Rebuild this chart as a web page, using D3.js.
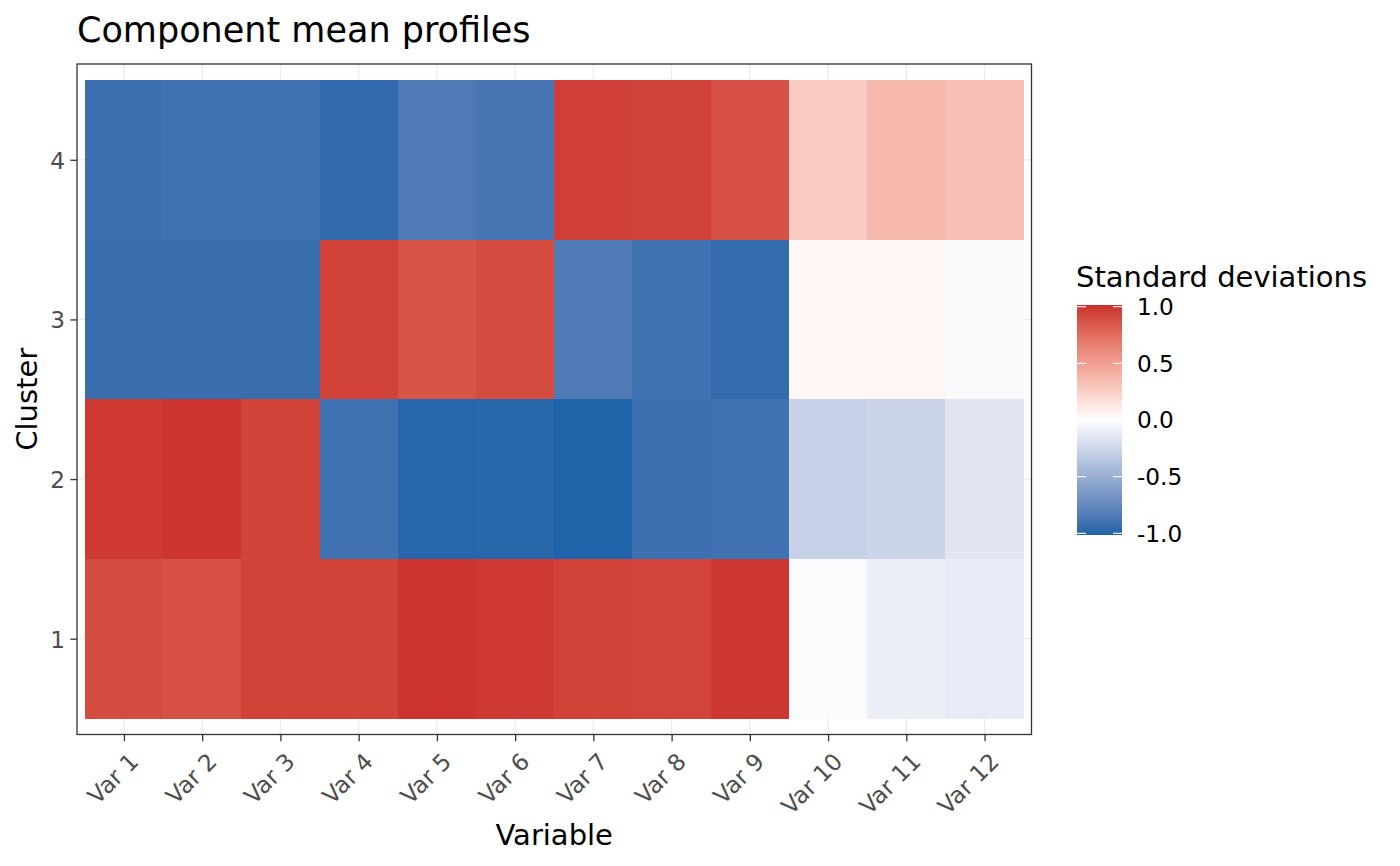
<!DOCTYPE html>
<html>
<head>
<meta charset="utf-8">
<script src="https://cdn.jsdelivr.net/npm/d3@7"></script>
<style>
  html, body { margin: 0; padding: 0; background: #ffffff; }
  svg { display: block; font-family: "DejaVu Sans", sans-serif; }
</style>
</head>
<body>
<svg id="chart" width="1400" height="866"></svg>
<script>
// ---- data ----
const variables = ["Var 1","Var 2","Var 3","Var 4","Var 5","Var 6","Var 7","Var 8","Var 9","Var 10","Var 11","Var 12"];
const clusters = ["1","2","3","4"];
const cluster1 = [0.91, 0.88, 0.95, 0.95, 1.00, 0.98, 0.95, 0.94, 0.99, -0.025, -0.10, -0.12];
const cluster2 = [0.985, 1.00, 0.95, -0.91, -0.99, -0.985, -1.01, -0.92, -0.91, -0.28, -0.26, -0.15];
const cluster3 = [-0.94, -0.94, -0.94, 0.95, 0.87, 0.91, -0.85, -0.91, -0.955, 0.04, 0.045, -0.03];
const cluster4 = [-0.92, -0.91, -0.91, -0.96, -0.85, -0.88, 0.96, 0.95, 0.88, 0.27, 0.37, 0.33];
const clusterValues = [cluster1, cluster2, cluster3, cluster4];
const legendTicks = [-1.0, -0.5, 0.0, 0.5, 1.0];
const colourLimits = [-1.015, 1.015];

const cells = [];
clusters.forEach((c, ci) => {
  variables.forEach((v, vi) => cells.push({ cluster: ci + 1, variable: vi + 1, value: clusterValues[ci][vi] }));
});

// ---- layout ----
const svg = d3.select("#chart");
const panel = { left: 77, right: 1031.5, top: 64, bottom: 734.5 };

const x = d3.scaleLinear().domain([0.4, variables.length + 0.6]).range([panel.left, panel.right]);
const y = d3.scaleLinear().domain([0.4, clusters.length + 0.6]).range([panel.bottom, panel.top]);

const colour = d3.scaleLinear()
  .domain([colourLimits[0], 0, colourLimits[1]])
  .range(["#1D63A8", "#ffffff", "#CB302D"])
  .interpolate(d3.interpolateLab)
  .clamp(true);

const lw = 1.3;
const tickFont = 23.2;
const titleFont = 35;
const axisTitleFont = 29;

// panel background
svg.append("rect").attr("x", panel.left).attr("y", panel.top)
  .attr("width", panel.right - panel.left).attr("height", panel.bottom - panel.top)
  .attr("fill", "#ffffff");

// grid lines
const grid = svg.append("g");
variables.forEach((v, i) => {
  grid.append("line").attr("x1", x(i + 1)).attr("x2", x(i + 1))
    .attr("y1", panel.top).attr("y2", panel.bottom)
    .attr("stroke", "#EBEBEB").attr("stroke-width", lw);
});
clusters.forEach((c, i) => {
  grid.append("line").attr("y1", y(i + 1)).attr("y2", y(i + 1))
    .attr("x1", panel.left).attr("x2", panel.right)
    .attr("stroke", "#EBEBEB").attr("stroke-width", lw);
});

// tiles
svg.append("g").selectAll("rect").data(cells).join("rect")
  .attr("x", d => x(d.variable - 0.5))
  .attr("y", d => y(d.cluster + 0.5))
  .attr("width", d => x(d.variable + 0.5) - x(d.variable - 0.5))
  .attr("height", d => y(d.cluster - 0.5) - y(d.cluster + 0.5))
  .attr("fill", d => colour(d.value))
  .attr("shape-rendering", "crispEdges");

// panel border
svg.append("rect").attr("x", panel.left).attr("y", panel.top)
  .attr("width", panel.right - panel.left).attr("height", panel.bottom - panel.top)
  .attr("fill", "none").attr("stroke", "#333333").attr("stroke-width", lw);

// ---- axes ----
const tickLen = 6.7;
const xAxis = d3.axisBottom(x)
  .tickValues(d3.range(1, variables.length + 1))
  .tickFormat(d => variables[d - 1])
  .tickSize(tickLen).tickPadding(0);
const gx = svg.append("g").attr("transform", `translate(0,${panel.bottom})`).call(xAxis);
gx.select(".domain").remove();
gx.selectAll(".tick line").attr("stroke", "#333333").attr("stroke-width", lw);
gx.selectAll(".tick text")
  .attr("fill", "#4D4D4D")
  .attr("font-size", tickFont)
  .attr("font-family", "DejaVu Sans")
  .attr("text-anchor", "end")
  .attr("y", 0)
  .attr("transform", `translate(-1,${tickLen + 5.4}) rotate(-45)`)
  .attr("dy", "1.0em");

const yAxis = d3.axisLeft(y)
  .tickValues(d3.range(1, clusters.length + 1))
  .tickFormat(d => clusters[d - 1])
  .tickSize(tickLen).tickPadding(5.4);
const gy = svg.append("g").attr("transform", `translate(${panel.left},0)`).call(yAxis);
gy.select(".domain").remove();
gy.selectAll(".tick line").attr("stroke", "#333333").attr("stroke-width", lw);
gy.selectAll(".tick text")
  .attr("fill", "#4D4D4D")
  .attr("font-size", tickFont)
  .attr("font-family", "DejaVu Sans")
  .attr("dy", "0.36em");

// ---- titles ----
svg.append("text").attr("x", 77).attr("y", 42)
  .attr("font-size", titleFont).attr("fill", "#000000")
  .text("Component mean profiles");

svg.append("text").attr("x", (panel.left + panel.right) / 2).attr("y", 845)
  .attr("text-anchor", "middle").attr("font-size", axisTitleFont).attr("fill", "#000000")
  .text("Variable");

svg.append("text")
  .attr("transform", `translate(36.5,${(panel.top + panel.bottom) / 2}) rotate(-90)`)
  .attr("text-anchor", "middle").attr("font-size", axisTitleFont).attr("fill", "#000000")
  .text("Cluster");

// ---- legend ----
const leg = { x: 1077, w: 45, top: 305, bottom: 535 };
const ly = d3.scaleLinear().domain(colourLimits).range([leg.bottom, leg.top]);

const defs = svg.append("defs");
const grad = defs.append("linearGradient").attr("id", "legGrad")
  .attr("x1", 0).attr("y1", 1).attr("x2", 0).attr("y2", 0);
d3.range(0, 1.0001, 0.02).forEach(t => {
  const v = colourLimits[0] + t * (colourLimits[1] - colourLimits[0]);
  grad.append("stop").attr("offset", t).attr("stop-color", colour(v));
});

svg.append("text").attr("x", leg.x - 1).attr("y", 287)
  .attr("font-size", axisTitleFont).attr("fill", "#000000")
  .text("Standard deviations");

svg.append("rect").attr("x", leg.x).attr("y", leg.top)
  .attr("width", leg.w).attr("height", leg.bottom - leg.top)
  .attr("fill", "url(#legGrad)");

const lt = svg.append("g");
legendTicks.forEach(t => {
  const yy = ly(t);
  lt.append("line").attr("x1", leg.x).attr("x2", leg.x + leg.w / 5)
    .attr("y1", yy).attr("y2", yy).attr("stroke", "#ffffff").attr("stroke-width", 1.1);
  lt.append("line").attr("x1", leg.x + leg.w * 4 / 5).attr("x2", leg.x + leg.w)
    .attr("y1", yy).attr("y2", yy).attr("stroke", "#ffffff").attr("stroke-width", 1.1);
  lt.append("text").attr("x", 1137).attr("y", yy).attr("dy", "0.36em")
    .attr("font-size", tickFont).attr("fill", "#000000")
    .text(d3.format(".1f")(t).replace("−", "-"));
});
</script>
</body>
</html>
